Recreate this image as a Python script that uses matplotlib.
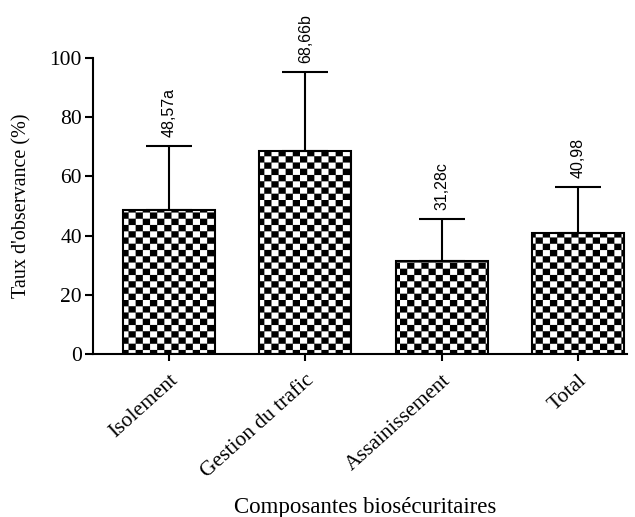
import numpy as np
import matplotlib
matplotlib.use("Agg")
import matplotlib.pyplot as plt
import matplotlib.hatch as mhatch
from matplotlib.path import Path

# data
categories = ["Isolement", "Gestion du trafic", "Assainissement", "Total"]
values = [48.57, 68.66, 31.28, 40.98]
sd = [21.7, 26.6, 14.3, 15.4]
bar_labels = ["48,57a", "68,66b", "31,28c", "40,98"]


# checkerboard hatch, used in place of the 'O' pattern
class Checker(mhatch.HatchPatternBase):
    ncol, nrow = 14, 16

    def __init__(self, hatch, density):
        self.on = 'O' in hatch
        n = self.ncol * self.nrow // 2
        self.num_vertices = n * 5 if self.on else 0

    def set_vertices_and_codes(self, vertices, codes):
        w, h = 1.0 / self.ncol, 1.0 / self.nrow
        k = 0
        for r in range(self.nrow):
            for c in range(self.ncol):
                if (r + c) % 2:
                    continue
                x, y = c * w, r * h
                vertices[k:k + 5] = [(x, y), (x + w, y), (x + w, y + h), (x, y + h), (x, y)]
                codes[k:k + 5] = [Path.MOVETO, Path.LINETO, Path.LINETO, Path.LINETO, Path.CLOSEPOLY]
                k += 5


mhatch._hatch_types[:] = [Checker if t is mhatch.LargeCircles else t for t in mhatch._hatch_types]

plt.rcParams['font.family'] = ['Liberation Serif', 'DejaVu Serif']
plt.rcParams['hatch.linewidth'] = 0.1
plt.rcParams['hatch.color'] = 'black'

fig = plt.figure(figsize=(6.35, 5.17), dpi=100)
ax = fig.add_axes([0.1465, 0.3153, 0.8405, 0.5725])

x = np.arange(len(categories))
ax.bar(x, values, width=0.675, color='white', edgecolor='black', linewidth=1.5, hatch='O', zorder=2)
ax.errorbar(x, values, yerr=[np.zeros(len(sd)), sd], fmt='none', ecolor='black',
            elinewidth=1.5, capsize=16.5, capthick=1.5, zorder=3)

for xi, v, s, lab in zip(x, values, sd, bar_labels):
    ax.text(xi, v + s + 3, lab, rotation=90, ha='center', va='bottom',
            fontsize=11.5, family=['Liberation Sans', 'DejaVu Sans'])

ax.set_xlim(-0.56, 3.36)
ax.set_ylim(0, 100)
ax.set_yticks([0, 20, 40, 60, 80, 100])
ax.set_xticks(x)
ax.set_xticklabels(categories, rotation=42, ha='right', rotation_mode='anchor', fontsize=15.5)
ax.tick_params(axis='y', labelsize=15.5, length=6, width=1.5, pad=2)
ax.tick_params(axis='x', length=5, width=1.5, pad=7)

for side in ['top', 'right']:
    ax.spines[side].set_visible(False)
for side in ['left', 'bottom']:
    ax.spines[side].set_linewidth(1.5)

ax.set_ylabel("Taux d'observance (%)", fontsize=14.5, va='center')
ax.yaxis.set_label_coords(-0.133, 0.5)
ax.set_xlabel("Composantes biosécuritaires", fontsize=16.5, va='center')
ax.xaxis.set_label_coords(0.509, -0.517)

fig.savefig("out.png", dpi=100)
